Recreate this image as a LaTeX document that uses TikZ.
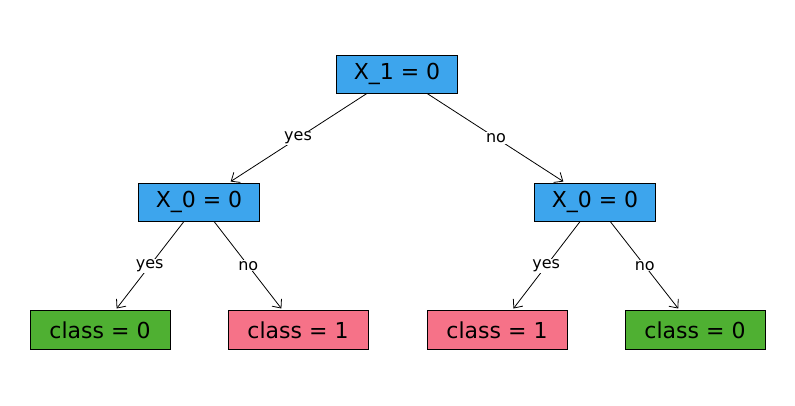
\documentclass[tikz,border=0pt]{standalone}
\usepackage{fontspec}
\setmainfont{DejaVu Sans}
\usetikzlibrary{arrows.meta}
\definecolor{splitblue}{RGB}{61,165,237}
\definecolor{leafgreen}{RGB}{79,176,50}
\definecolor{leafpink}{RGB}{246,114,136}
\tikzset{
	split/.style={draw, fill=splitblue, minimum width=121pt, minimum height=38pt, inner sep=0pt, font=\fontsize{22}{26}\selectfont},
	leaf/.style={draw, minimum width=140pt, minimum height=39pt, inner sep=0pt, font=\fontsize{22}{26}\selectfont},
	answer/.style={fill=white, inner sep=1pt, font=\fontsize{16}{19}\selectfont}
}
\begin{document}
\begin{tikzpicture}[x=1pt, y=-1pt, -{Straight Barb[length=7pt,width=12pt]}, shorten >=2pt, line width=0.8pt]
		\useasboundingbox (0,0) rectangle (795,405);
		\node[split] (root) at (397, 74)  {X\_1 = 0};
		\node[split] (x0l)  at (199, 202) {X\_0 = 0};
		\node[split] (x0r)  at (595, 202) {X\_0 = 0};
		\node[leaf, fill=leafgreen] (c0l) at (100, 330) {class = 0};
		\node[leaf, fill=leafpink]  (c1l) at (298, 330) {class = 1};
		\node[leaf, fill=leafpink]  (c1r) at (497, 330) {class = 1};
		\node[leaf, fill=leafgreen] (c0r) at (695, 330) {class = 0};

		% first split
		\path
			(root) edge node[answer] {yes} (x0l)
			(root) edge node[answer] {no} (x0r);
		% second splits
		\path
			(x0l) edge node[answer] {yes} (c0l)
			(x0l) edge node[answer] {no} (c1l)
			(x0r) edge node[answer] {yes} (c1r)
			(x0r) edge node[answer] {no} (c0r);
	\end{tikzpicture}
\end{document}
